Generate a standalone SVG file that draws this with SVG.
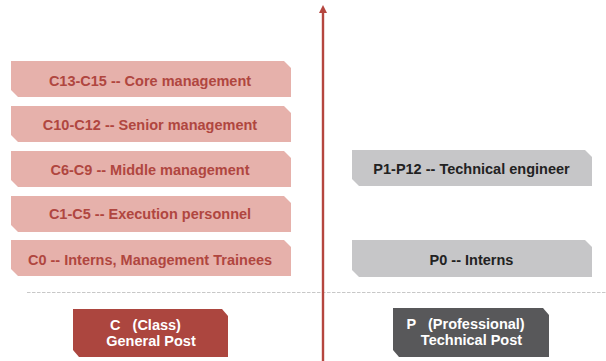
<svg xmlns="http://www.w3.org/2000/svg" width="606" height="361" viewBox="0 0 606 361">
<defs>
<style>
.c{fill:#e6b1ab}
.g{fill:#c6c6c8}
.ct{font-family:"Liberation Sans",Arial,sans-serif;font-weight:bold;font-size:14.5px;fill:#b0463f;text-anchor:middle}
.gt{font-family:"Liberation Sans",Arial,sans-serif;font-weight:bold;font-size:14.5px;fill:#222;text-anchor:middle}
.wt{font-family:"Liberation Sans",Arial,sans-serif;font-weight:bold;font-size:14.5px;fill:#fff;white-space:pre}
</style>
</defs>
<rect width="606" height="361" fill="#fff"/>
<g id="connectors">
<line x1="27" y1="292.5" x2="606" y2="292.5" stroke="#c8c8c8" stroke-width="1.2" stroke-dasharray="3.5,1.5"/>
<line x1="323" y1="361" x2="323" y2="13" stroke="#b5463f" stroke-width="2.4"/>
<path d="M319,13 L323,5 L327,13 Z" fill="#b5463f"/>
</g>
<g id="c13">
<path class="c" d="M11,61 H284 L291,68 V97 H18 L11,90 Z"/>
<text class="ct" x="150" y="85.5">C13-C15 -- Core management</text>
</g>
<g id="c10">
<path class="c" d="M11,106 H284 L291,113 V142 H18 L11,135 Z"/>
<text class="ct" x="150" y="129.5">C10-C12 -- Senior management</text>
</g>
<g id="c6">
<path class="c" d="M11,151 H284 L291,158 V187 H18 L11,180 Z"/>
<text class="ct" x="150" y="175">C6-C9 -- Middle management</text>
</g>
<g id="c1">
<path class="c" d="M11,196 H284 L291,203 V232 H18 L11,225 Z"/>
<text class="ct" x="150" y="219">C1-C5 -- Execution personnel</text>
</g>
<g id="c0">
<path class="c" d="M11,240 H284 L291,247 V276 H18 L11,269 Z"/>
<text class="ct" x="150" y="264.5">C0 -- Interns, Management Trainees</text>
</g>
<g id="p1">
<path class="g" d="M352,150 H585 L592,157 V186 H359 L352,179 Z"/>
<text class="gt" x="471.5" y="174">P1-P12 -- Technical engineer</text>
</g>
<g id="p0">
<path class="g" d="M352,240 H585 L592,247 V277 H359 L352,270 Z"/>
<text class="gt" x="471.5" y="264.5">P0 -- Interns</text>
</g>
<g id="cpost">
<path d="M73,309 H222 L228,316 V357 H79 L73,350 Z" fill="#ac463f"/>
<text class="wt" x="110" y="330" xml:space="preserve">C   (Class)</text>
<text class="wt" x="151" y="345.5" text-anchor="middle">General Post</text>
</g>
<g id="ppost">
<path d="M393,308 H543 L549,315 V357 H399 L393,350 Z" fill="#58585a"/>
<text class="wt" x="406.5" y="329" xml:space="preserve">P   (Professional)</text>
<text class="wt" x="471.5" y="345" text-anchor="middle">Technical Post</text>
</g>
</svg>
